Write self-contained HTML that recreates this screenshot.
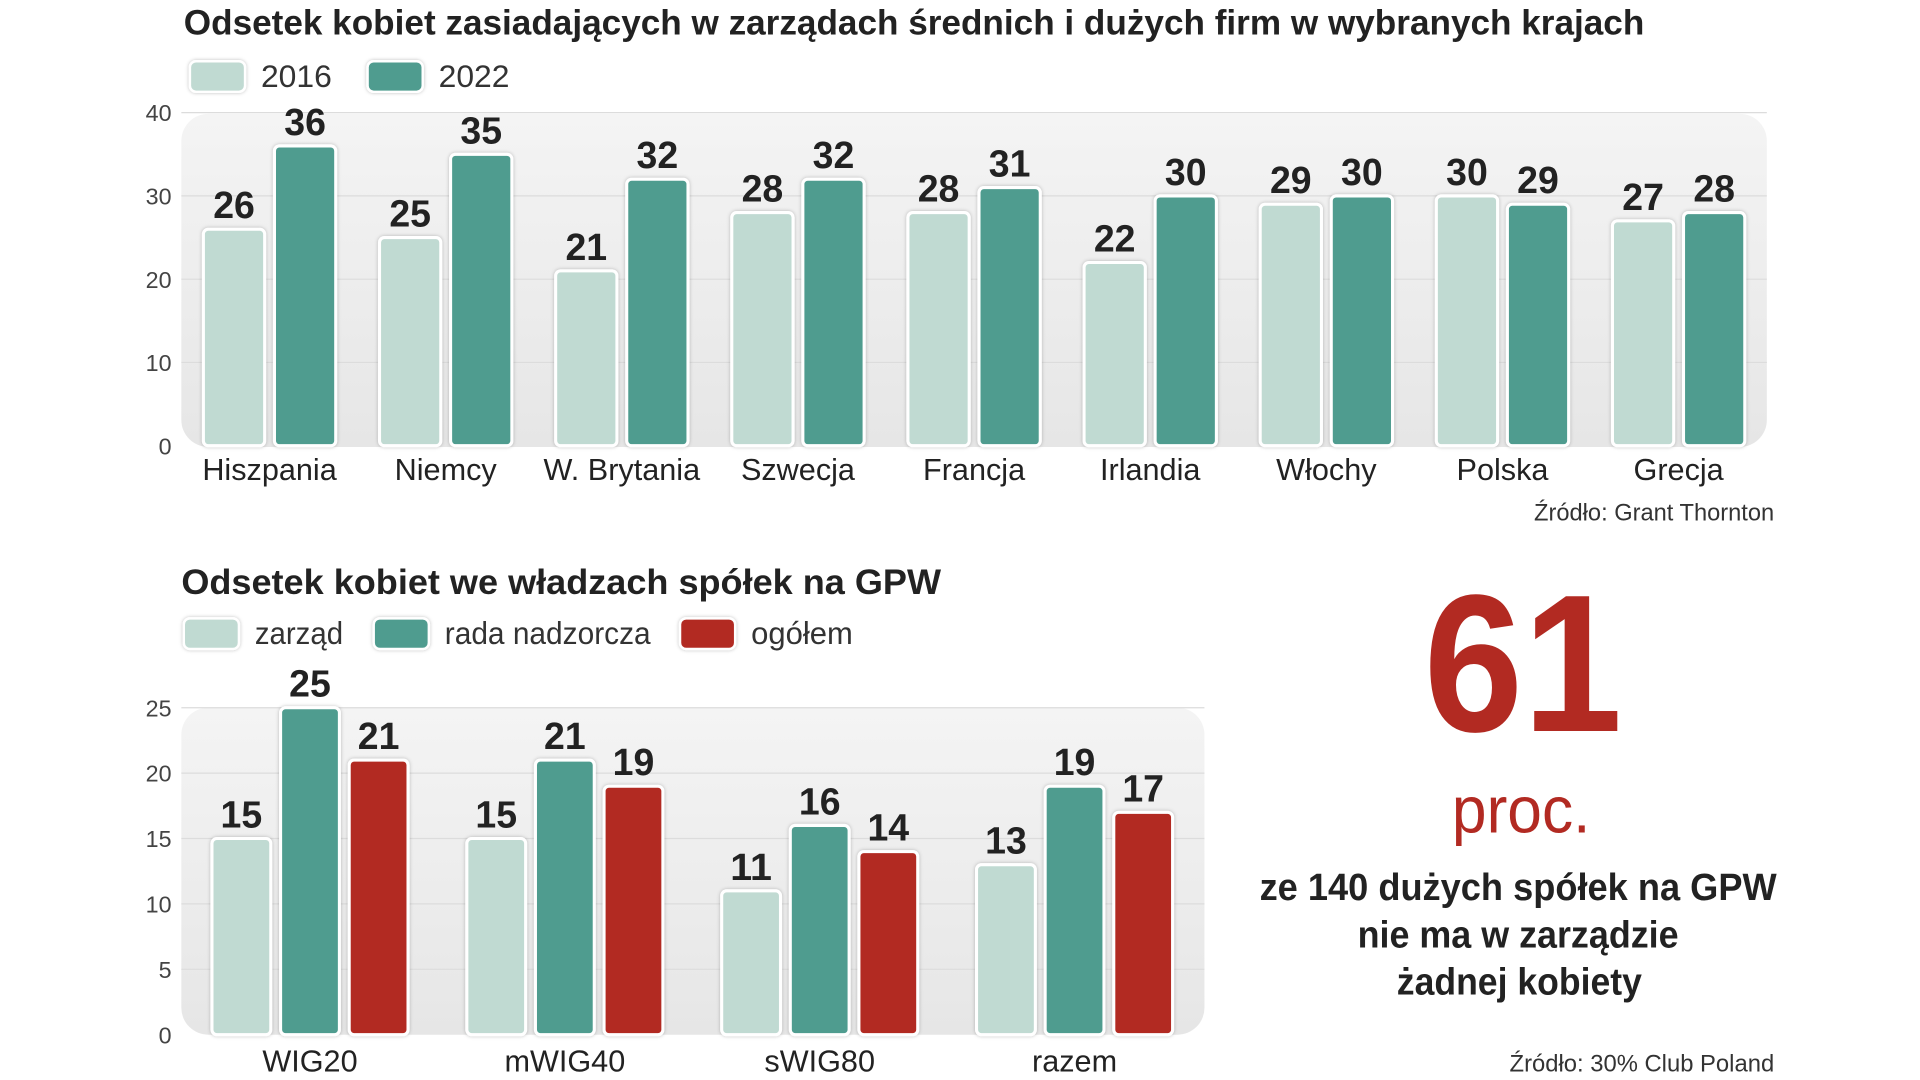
<!DOCTYPE html>
<html><head><meta charset="utf-8"><style>
html,body{margin:0;padding:0;background:#fff;width:1920px;height:1080px;overflow:hidden}
svg{display:block}
.t{font-family:"Liberation Sans Narrow","Liberation Sans",sans-serif}
</style></head><body>
<svg id="s" width="1920" height="1080" viewBox="0 0 1567 882" preserveAspectRatio="none" xmlns="http://www.w3.org/2000/svg">
<defs>
<linearGradient id="pg" x1="0" y1="0" x2="0" y2="1"><stop offset="0" stop-color="#f4f4f4"/><stop offset="1" stop-color="#e6e6e6"/></linearGradient>
<filter id="sh" x="-20%" y="-20%" width="140%" height="140%"><feDropShadow dx="0" dy="0" stdDeviation="1.5" flood-color="#000" flood-opacity="0.25"/></filter>
</defs>
<g class="t">
<text x="150" y="28" font-size="29" font-weight="bold" fill="#222" textLength="1192" lengthAdjust="spacingAndGlyphs">Odsetek kobiet zasiadających w zarządach średnich i dużych firm w wybranych krajach</text>
<rect x="155" y="50" width="45" height="25" rx="5" fill="#c0dad2" stroke="#fff" stroke-width="2" filter="url(#sh)"/>
<text x="213" y="71" font-size="26" fill="#333">2016</text>
<rect x="300" y="50" width="45" height="25" rx="5" fill="#4f9c8f" stroke="#fff" stroke-width="2" filter="url(#sh)"/>
<text x="358" y="71" font-size="26" fill="#333">2022</text>
<rect x="148" y="93" width="1294" height="272" rx="22" fill="url(#pg)"/>
<g id="top"></g>
<text x="1448" y="425" font-size="20" fill="#333" text-anchor="end" textLength="196" lengthAdjust="spacingAndGlyphs">Źródło: Grant Thornton</text>

<text x="148" y="485" font-size="29" font-weight="bold" fill="#222" textLength="620" lengthAdjust="spacingAndGlyphs">Odsetek  kobiet we władzach spółek na GPW</text>
<rect x="150" y="505" width="45" height="25" rx="5" fill="#c0dad2" stroke="#fff" stroke-width="2" filter="url(#sh)"/>
<text x="208" y="526" font-size="26" fill="#333" textLength="72" lengthAdjust="spacingAndGlyphs">zarząd</text>
<rect x="305" y="505" width="45" height="25" rx="5" fill="#4f9c8f" stroke="#fff" stroke-width="2" filter="url(#sh)"/>
<text x="363" y="526" font-size="26" fill="#333" textLength="168" lengthAdjust="spacingAndGlyphs">rada nadzorcza</text>
<rect x="555" y="505" width="45" height="25" rx="5" fill="#b22a22" stroke="#fff" stroke-width="2" filter="url(#sh)"/>
<text x="613" y="526" font-size="26" fill="#333" textLength="83" lengthAdjust="spacingAndGlyphs">ogółem</text>
<rect x="148" y="578" width="835" height="267" rx="22" fill="url(#pg)"/>
<g id="bot"></g>
<text x="1448" y="875" font-size="20" fill="#333" text-anchor="end" textLength="216" lengthAdjust="spacingAndGlyphs">Źródło: 30% Club Poland</text>

<text x="1162" y="597" font-size="160" font-weight="bold" fill="#b22a22" textLength="162" lengthAdjust="spacingAndGlyphs">61</text>
<text x="1185" y="680" font-size="54" fill="#b22a22" textLength="113" lengthAdjust="spacingAndGlyphs">proc.</text>
<text x="1028" y="735" font-size="31" font-weight="bold" fill="#222" textLength="422" lengthAdjust="spacingAndGlyphs">ze 140 dużych spółek na GPW</text>
<text x="1108" y="774" font-size="31" font-weight="bold" fill="#222" textLength="262" lengthAdjust="spacingAndGlyphs">nie ma w zarządzie</text>
<text x="1140" y="812" font-size="31" font-weight="bold" fill="#222" textLength="200" lengthAdjust="spacingAndGlyphs">żadnej kobiety</text>
</g>
</svg>
<script>
const topCats=["Hiszpania","Niemcy","W. Brytania","Szwecja","Francja","Irlandia","Włochy","Polska","Grecja"];
const top2016=[26,25,21,28,28,22,29,30,27];
const top2022=[36,35,32,32,31,30,30,29,28];
const topTicks=[0,10,20,30,40];
const botCats=["WIG20","mWIG40","sWIG80","razem"];
const botZarzad=[15,15,11,13];
const botRada=[25,21,16,19];
const botOgolem=[21,19,14,17];
const botTicks=[0,5,10,15,20,25];
const NS="http://www.w3.org/2000/svg";
function mk(p,tag,a){const e=document.createElementNS(NS,tag);for(const k in a)e.setAttribute(k,a[k]);p.appendChild(e);return e;}
function chart(g,cats,series,colors,ticks,vmax,y0,y1,px0,px1,c0,step,bw,gap,lblY){
  const y=v=>y0-(v/vmax)*(y0-y1);
  ticks.forEach(t=>{
    if(t>0){const l=mk(g,'line',{x1:px0,x2:px1,y1:y(t),y2:y(t),stroke:'#dcdcdc','stroke-width':1});
    
    }
    const tx=mk(g,'text',{x:140,y:y(t)+7,'font-size':19,fill:'#444','text-anchor':'end'});tx.textContent=t;
    
    
  });
  const n=series.length;
  cats.forEach((c,i)=>{
    const cx=c0+i*step;
    series.forEach((s,j)=>{
      const x=cx+(j-(n-1)/2)*(bw+gap)-bw/2;
      const r=mk(g,'rect',{x:x,y:y(s[i]),width:bw,height:y0-y(s[i]),rx:4,fill:colors[j],stroke:'#fff','stroke-width':2.5,filter:'url(#sh)'});
      
      
      const v=mk(g,'text',{x:x+bw/2,y:y(s[i])-9,'font-size':31,'font-weight':'bold',fill:'#222','text-anchor':'middle',textLength:34,lengthAdjust:'spacingAndGlyphs'});v.textContent=s[i];
      
      
    });
    const l=mk(g,'text',{x:cx,y:lblY,'font-size':25,fill:'#222','text-anchor':'middle'});l.textContent=c;
    
    
  });
}
chart(document.getElementById('top'),topCats,[top2016,top2022],['#c0dad2','#4f9c8f'],topTicks,40,364,92,148,1442,220,143.75,50,8,392);
chart(document.getElementById('bot'),botCats,[botZarzad,botRada,botOgolem],['#c0dad2','#4f9c8f','#b22a22'],botTicks,25,845,578,148,983,253,208,48,8,875);
</script>
</body></html>
